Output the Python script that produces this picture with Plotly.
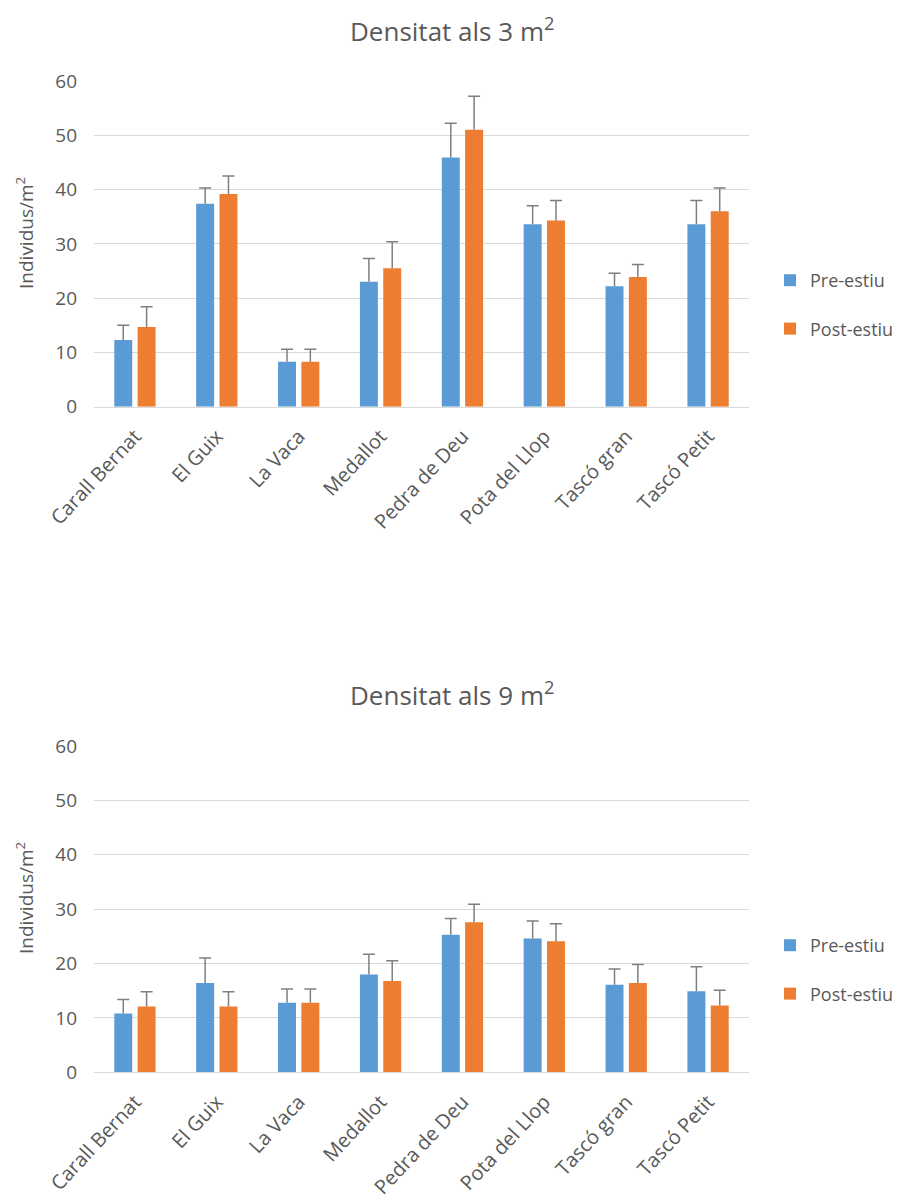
import plotly.graph_objects as go

# Sites sampled
sites = ["Carall Bernat", "El Guix", "La Vaca", "Medallot",
         "Pedra de Deu", "Pota del Llop", "Tascó gran", "Tascó Petit"]

# Density at 3 m² (individuals/m²) and upper error
pre_3 = [12.3, 37.4, 8.3, 23.0, 45.9, 33.6, 22.2, 33.6]
pre_3_err = [2.7, 2.9, 2.3, 4.3, 6.3, 3.4, 2.4, 4.4]
post_3 = [14.7, 39.2, 8.3, 25.5, 51.0, 34.3, 23.9, 36.0]
post_3_err = [3.7, 3.3, 2.3, 4.9, 6.2, 3.7, 2.3, 4.3]

# Density at 9 m² (individuals/m²) and upper error
pre_9 = [10.8, 16.4, 12.8, 18.0, 25.3, 24.6, 16.1, 14.9]
pre_9_err = [2.6, 4.6, 2.5, 3.7, 3.0, 3.2, 2.9, 4.5]
post_9 = [12.1, 12.1, 12.8, 16.8, 27.6, 24.1, 16.4, 12.3]
post_9_err = [2.7, 2.7, 2.5, 3.7, 3.3, 3.2, 3.4, 2.8]

series_names = ["Pre-estiu", "Post-estiu"]
colors = ["#5B9BD5", "#ED7D31"]

W, H = 909, 1200
FONT = "Open Sans"
GREY = "#595959"
ERR_GREY = "#7F7F7F"


def px_x(p):
    return p / W


def px_y(p):
    return 1 - p / H


fig = go.Figure()


def add_pair(vals, errs, xa, ya, legend):
    for name, v, e, c in zip(series_names, vals, errs, colors):
        group = legend + name
        # the bar with a plus-only whisker (no caps)
        fig.add_trace(go.Bar(
            x=sites, y=v, name=name, marker_color=c,
            marker_line_width=0, offsetgroup=group,
            xaxis=xa, yaxis=ya, legend=legend, legendgroup=group,
            error_y=dict(type="data", array=e, arrayminus=[0] * len(e),
                         symmetric=False, color=ERR_GREY,
                         thickness=1.5, width=0),
        ))
        # transparent overlay carrying only the cap at the whisker end
        tops = [a + b for a, b in zip(v, e)]
        fig.add_trace(go.Bar(
            x=sites, y=tops, marker_color="rgba(0,0,0,0)",
            marker_line_width=0, offsetgroup=group, showlegend=False,
            hoverinfo="skip", xaxis=xa, yaxis=ya, legendgroup=group,
            error_y=dict(type="data", array=[1e-9] * len(e),
                         color=ERR_GREY, thickness=1.5, width=6),
        ))


add_pair([pre_3, post_3], [pre_3_err, post_3_err], "x", "y", "legend")
add_pair([pre_9, post_9], [pre_9_err, post_9_err], "x2", "y2", "legend2")

xdom = [px_x(94), px_x(749)]
axis_common_x = dict(
    domain=xdom, showgrid=False, showline=True, linecolor="#D9D9D9",
    linewidth=1, ticks="", tickangle=-47, ticklabelstandoff=9,
    tickfont=dict(family=FONT, size=20, color=GREY), automargin=False,
)
axis_common_y = dict(
    range=[0, 60], dtick=10, showgrid=True, gridcolor="#D9D9D9",
    gridwidth=1, zeroline=False, showline=False, ticks="",
    ticklabelstandoff=16,
    tickfont=dict(family=FONT, size=19, color=GREY), automargin=False,
)

legend_common = dict(
    xanchor="left", yanchor="top", bgcolor="rgba(0,0,0,0)",
    font=dict(family=FONT, size=18, color=GREY),
    itemwidth=30, tracegroupgap=22, traceorder="grouped",
)

title_font = dict(family=FONT, size=26, color=GREY)
axis_title_font = dict(family=FONT, size=19, color=GREY)

fig.update_layout(
    width=W, height=H,
    margin=dict(l=0, r=0, t=0, b=0),
    paper_bgcolor="white", plot_bgcolor="white",
    barmode="group", bargap=0.43, bargroupgap=0.23,
    xaxis=dict(anchor="y", **axis_common_x),
    yaxis=dict(anchor="x", domain=[px_y(406.7), px_y(81)], **axis_common_y),
    xaxis2=dict(anchor="y2", **axis_common_x),
    yaxis2=dict(anchor="x2", domain=[px_y(1072.3), px_y(746)], **axis_common_y),
    legend=dict(x=px_x(770), y=px_y(262), **legend_common),
    legend2=dict(x=px_x(770), y=px_y(927), **legend_common),
    annotations=[
        dict(text="Densitat als 3 m<sup>2</sup>", x=px_x(452), y=px_y(30),
             xref="paper", yref="paper", showarrow=False,
             xanchor="center", yanchor="middle", font=title_font),
        dict(text="Densitat als 9 m<sup>2</sup>", x=px_x(452), y=px_y(694),
             xref="paper", yref="paper", showarrow=False,
             xanchor="center", yanchor="middle", font=title_font),
        dict(text="Individus/m<sup>2</sup>", x=px_x(25), y=px_y(233),
             xref="paper", yref="paper", showarrow=False, textangle=-90,
             xanchor="center", yanchor="middle", font=axis_title_font),
        dict(text="Individus/m<sup>2</sup>", x=px_x(25), y=px_y(898),
             xref="paper", yref="paper", showarrow=False, textangle=-90,
             xanchor="center", yanchor="middle", font=axis_title_font),
    ],
)

fig.write_html("out.html")
